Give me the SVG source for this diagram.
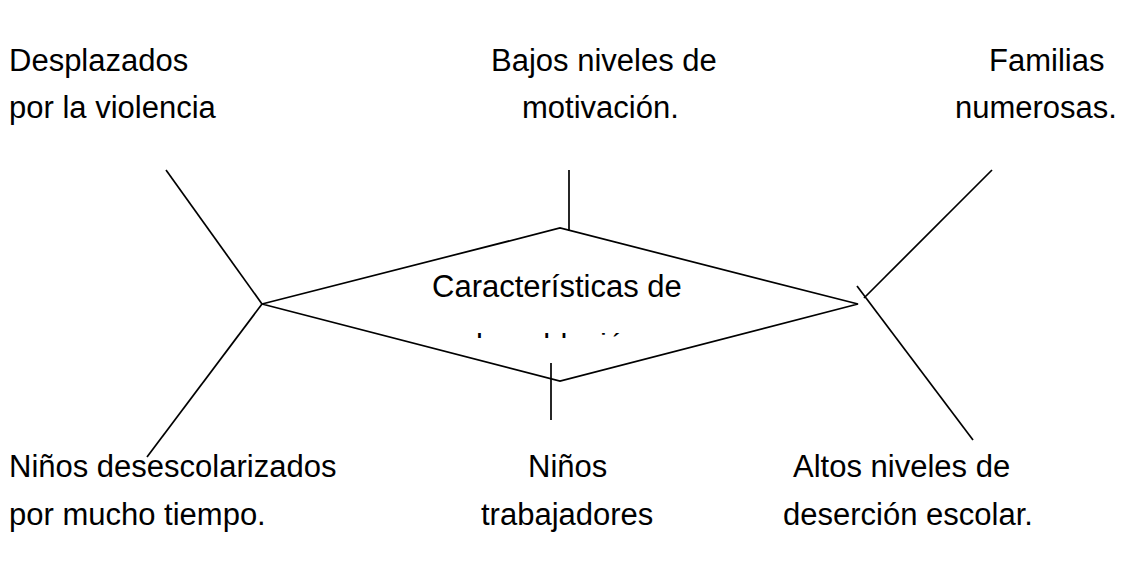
<svg xmlns="http://www.w3.org/2000/svg" width="1123" height="568" viewBox="0 0 1123 568">
<defs>
<style>
text{font-family:"Liberation Sans",Arial,sans-serif;font-size:31px;fill:#000}
.ln{stroke:#000;stroke-width:1.7;fill:none;stroke-linecap:butt}
</style>
<clipPath id="clipBand"><rect x="400" y="333" width="300" height="5"/></clipPath>
</defs>
<rect width="1123" height="568" fill="#fff"/>
<g id="connectors">
<line class="ln" x1="166" y1="170" x2="262" y2="304"/>
<line class="ln" x1="262" y1="304" x2="147" y2="457"/>
<line class="ln" x1="569" y1="170" x2="569" y2="231"/>
<line class="ln" x1="551" y1="363" x2="551" y2="420"/>
<line class="ln" x1="992" y1="170" x2="864" y2="298"/>
<line class="ln" x1="857" y1="286" x2="973" y2="440"/>
</g>
<g id="center">
<polygon class="ln" points="262,304 560,228 858,304 560,381"/>
<text x="432" y="297">Características de</text>
<text x="476" y="355" clip-path="url(#clipBand)">la población</text>
</g>
<g id="n-desplazados"><text x="9" y="71">Desplazados</text><text x="9" y="118">por la violencia</text></g>
<g id="n-motivacion"><text x="491" y="71">Bajos niveles de</text><text x="522" y="118">motivación.</text></g>
<g id="n-familias"><text x="989" y="71">Familias</text><text x="955" y="118">numerosas.</text></g>
<g id="n-desescolarizados"><text x="9" y="477">Niños desescolarizados</text><text x="9" y="525">por mucho tiempo.</text></g>
<g id="n-trabajadores"><text x="528" y="477">Niños</text><text x="481" y="525">trabajadores</text></g>
<g id="n-desercion"><text x="793" y="477">Altos niveles de</text><text x="783" y="525">deserción escolar.</text></g>
</svg>
